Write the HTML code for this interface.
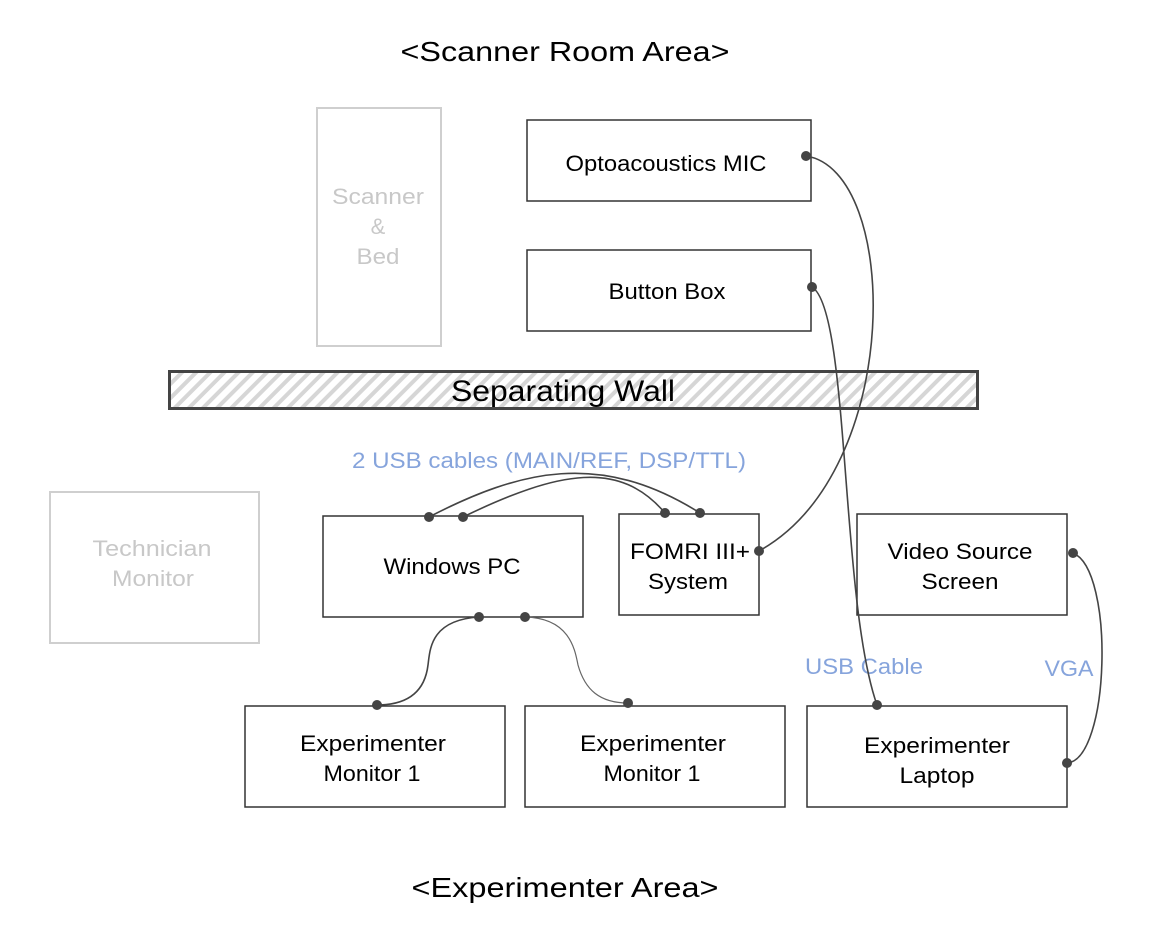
<!DOCTYPE html>
<html><head><meta charset="utf-8"><style>
html,body{margin:0;padding:0;background:#fff;}
svg{display:block;font-family:"Liberation Sans",Arial,sans-serif;}
</style></head><body>
<svg width="1162" height="952" viewBox="0 0 1162 952" xmlns="http://www.w3.org/2000/svg">
<defs>
<pattern id="h" width="10" height="10" patternUnits="userSpaceOnUse" patternTransform="rotate(45)">
<rect width="10" height="10" fill="#fff"/><rect width="4" height="10" fill="#d6d6d6"/>
</pattern>
</defs>
<text x="565" y="61" font-size="28" text-anchor="middle" textLength="329" lengthAdjust="spacingAndGlyphs">&lt;Scanner Room Area&gt;</text>
<text x="565" y="897" font-size="28" text-anchor="middle" textLength="307" lengthAdjust="spacingAndGlyphs">&lt;Experimenter Area&gt;</text>

<g fill="none" stroke="#cfcfcf" stroke-width="2">
<rect x="317" y="108" width="124" height="238"/>
<rect x="50" y="492" width="209" height="151"/>
</g>
<g font-size="22" fill="#c8c8c8" text-anchor="middle">
<text x="378" y="204" textLength="92" lengthAdjust="spacingAndGlyphs">Scanner</text><text x="378" y="234">&amp;</text><text x="378" y="264" textLength="43" lengthAdjust="spacingAndGlyphs">Bed</text>
<text x="152" y="556" textLength="119" lengthAdjust="spacingAndGlyphs">Technician</text><text x="153" y="586" textLength="82" lengthAdjust="spacingAndGlyphs">Monitor</text>
</g>

<rect x="169.5" y="371.5" width="808" height="37" fill="url(#h)" stroke="#444" stroke-width="3"/>
<text x="563" y="401" font-size="30" text-anchor="middle" textLength="224" lengthAdjust="spacingAndGlyphs">Separating Wall</text>

<g fill="#fff" stroke="#333" stroke-width="1.5">
<rect x="527" y="120" width="284" height="81"/>
<rect x="527" y="250" width="284" height="81"/>
<rect x="323" y="516" width="260" height="101"/>
<rect x="619" y="514" width="140" height="101"/>
<rect x="857" y="514" width="210" height="101"/>
<rect x="245" y="706" width="260" height="101"/>
<rect x="525" y="706" width="260" height="101"/>
<rect x="807" y="706" width="260" height="101"/>
</g>
<g font-size="22" fill="#000" text-anchor="middle">
<text x="666" y="171" textLength="201" lengthAdjust="spacingAndGlyphs">Optoacoustics MIC</text>
<text x="667" y="299" textLength="117" lengthAdjust="spacingAndGlyphs">Button Box</text>
<text x="452" y="574" textLength="137" lengthAdjust="spacingAndGlyphs">Windows PC</text>
<text x="690" y="559" textLength="120" lengthAdjust="spacingAndGlyphs">FOMRI III+</text><text x="688" y="589" textLength="80" lengthAdjust="spacingAndGlyphs">System</text>
<text x="960" y="559" textLength="145" lengthAdjust="spacingAndGlyphs">Video Source</text><text x="960" y="589" textLength="77" lengthAdjust="spacingAndGlyphs">Screen</text>
<text x="373" y="751" textLength="146" lengthAdjust="spacingAndGlyphs">Experimenter</text><text x="372" y="781" textLength="97" lengthAdjust="spacingAndGlyphs">Monitor 1</text>
<text x="653" y="751" textLength="146" lengthAdjust="spacingAndGlyphs">Experimenter</text><text x="652" y="781" textLength="97" lengthAdjust="spacingAndGlyphs">Monitor 1</text>
<text x="937" y="753" textLength="146" lengthAdjust="spacingAndGlyphs">Experimenter</text><text x="937" y="783" textLength="75" lengthAdjust="spacingAndGlyphs">Laptop</text>
</g>
<g font-size="22" fill="#86a4dc" text-anchor="middle">
<text x="549" y="468" textLength="394" lengthAdjust="spacingAndGlyphs">2 USB cables (MAIN/REF, DSP/TTL)</text>
<text x="864" y="674" textLength="118" lengthAdjust="spacingAndGlyphs">USB Cable</text>
<text x="1069" y="676" textLength="49" lengthAdjust="spacingAndGlyphs">VGA</text>
</g>

<g fill="none" stroke="#444" stroke-width="1.6">
<path d="M806,156 C900,170 905,470 759,551"/>
<path d="M812,287 C850,310 840,600 877,705"/>
<path d="M429,517 C520,470 600,450 700,513"/>
<path d="M463,517 C560,470 620,460 665,513"/>
<path d="M479,617 C430,620 430,650 428,665 C425,690 410,705 377,705"/>
<path d="M525,617 C570,618 575,650 578,665 C585,690 600,703 628,703" stroke="#666" stroke-width="1.2"/>
<path d="M1073,553 C1115,570 1110,760 1067,763"/>
</g>
<g fill="#444">
<circle cx="806" cy="156" r="5"/><circle cx="812" cy="287" r="5"/>
<circle cx="759" cy="551" r="5"/><circle cx="877" cy="705" r="5"/>
<circle cx="429" cy="517" r="5"/><circle cx="463" cy="517" r="5"/>
<circle cx="665" cy="513" r="5"/><circle cx="700" cy="513" r="5"/>
<circle cx="479" cy="617" r="5"/><circle cx="525" cy="617" r="5"/>
<circle cx="377" cy="705" r="5"/><circle cx="628" cy="703" r="5"/>
<circle cx="1073" cy="553" r="5"/><circle cx="1067" cy="763" r="5"/>
</g>
</svg>
</body></html>
